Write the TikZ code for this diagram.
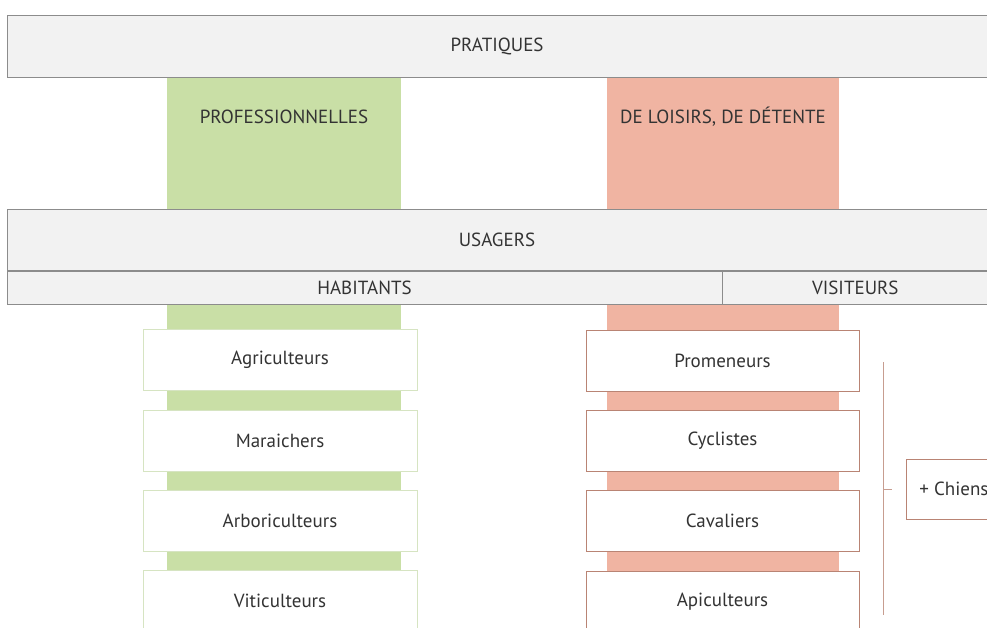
\documentclass[tikz,border=0pt]{standalone}
\usepackage{fontspec}
\setmainfont{PT Sans}
\definecolor{bandfill}{HTML}{F2F2F2}
\definecolor{bandline}{HTML}{8C8C8C}
\definecolor{procol}{HTML}{C9DFA6}
\definecolor{proline}{HTML}{D6E4C2}
\definecolor{loicol}{HTML}{F0B4A2}
\definecolor{loiline}{HTML}{B98474}
\definecolor{txt}{HTML}{333333}

\begin{document}
\begin{tikzpicture}[x=1pt,y=-1pt,
	every node/.style={text=txt, inner sep=0pt, font=\fontsize{19}{22}\selectfont},
	band/.style={draw=bandline, fill=bandfill, line width=0.8pt},
	probox/.style={draw=proline, fill=white, line width=0.8pt, minimum width=274, minimum height=61},
	loibox/.style={draw=loiline, fill=white, line width=0.8pt, minimum width=273, minimum height=61},
	bracket/.style={draw=loiline!80, line width=0.8pt}]
	\useasboundingbox (0,0) rectangle (987,628);
	\clip (0,0) rectangle (987,628);
	\fill[procol] (167,77) rectangle (401,640);
	\fill[loicol] (607,77) rectangle (839,640);
	\node[band, minimum width=980, minimum height=62] (pratiques) at (497,46) {PRATIQUES};
	\node (pro) at (284,117) {PROFESSIONNELLES};
	\node (loisirs) at (723,117) {DE LOISIRS, DE DÉTENTE};
	\node[band, minimum width=980, minimum height=61] (usagers) at (497,240) {USAGERS};
	\node[band, anchor=north west, minimum width=715, minimum height=33] (habitants) at (usagers.south west) {HABITANTS};
	\node[band, anchor=west, minimum width=265, minimum height=33] (visiteurs) at (habitants.east) {VISITEURS};
	\foreach \lab [count=\i] in {Agriculteurs, Maraichers, Arboriculteurs, Viticulteurs} {
		\node[probox] (pro\i) at (280,{360+80.4*(\i-1)}) {\lab};
	}
	\foreach \lab [count=\i] in {Promeneurs, Cyclistes, Cavaliers, Apiculteurs} {
		\node[loibox] (loi\i) at (722.5,{360.5+80.4*(\i-1)}) {\lab};
	}
	\node[loibox, anchor=west, minimum width=95, minimum height=60] (chiens) at (906,489) {+ Chiens};
	\coordinate (btop) at (883,362);
	\coordinate (bbot) at (883,615);
	\coordinate (bmid) at (883,489);
	\draw[bracket] (btop) -- (bbot);
	\draw[bracket] (bmid) -- ([xshift=-14pt]chiens.west);
\end{tikzpicture}
\end{document}
